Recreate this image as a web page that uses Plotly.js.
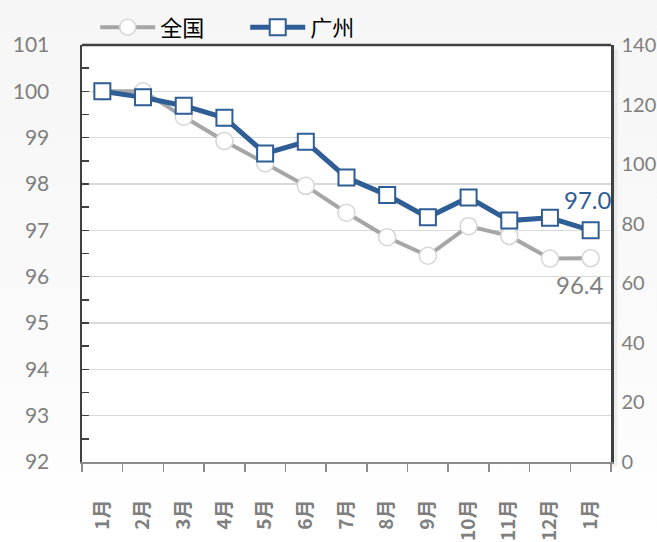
<!DOCTYPE html>
<html>
<head>
<meta charset="utf-8">
<script src="https://cdn.plot.ly/plotly-3.0.1.min.js"></script>
<style>
html,body{margin:0;padding:0;}
body{width:657px;height:542px;background:linear-gradient(180deg,#f6f6f6 0%,#fafafa 60%,#ffffff 100%);}
#chart{width:657px;height:542px;}
</style>
</head>
<body>
<div id="chart"></div>
<script>
const monthLabels = ["1月","2月","3月","4月","5月","6月","7月","8月","9月","10月","11月","12月","1月"];
const nationalValues = [100.0, 100.0, 99.45, 98.93, 98.45, 97.96, 97.38, 96.85, 96.45, 97.09, 96.88, 96.39, 96.4];
const guangzhouValues = [100.0, 99.87, 99.69, 99.43, 98.66, 98.91, 98.14, 97.76, 97.28, 97.71, 97.21, 97.27, 97.0];
const seriesNames = ["全国", "广州"];

const xIdx = monthLabels.map((_, i) => i);
const numFont = "Lato, 'Noto Sans CJK SC', sans-serif";
const cjkFont = "'Noto Sans CJK SC', 'Noto Sans', sans-serif";
const blue = "#2f5d95";
const gray = "#a6a6a6";
const last = monthLabels.length - 1;

const traces = [
  {
    x: xIdx, y: nationalValues, name: seriesNames[0], type: "scatter", mode: "lines+markers",
    line: {color: gray, width: 4},
    marker: {symbol: "circle", size: 17, color: "#ffffff", line: {color: "#d6d6d6", width: 1.5}},
    hoverinfo: "skip"
  },
  {
    x: xIdx, y: guangzhouValues, name: seriesNames[1], type: "scatter", mode: "lines+markers",
    line: {color: blue, width: 5},
    marker: {symbol: "square", size: 16, color: "#ffffff", line: {color: blue, width: 2}},
    hoverinfo: "skip"
  },
  {
    x: [], y: [], yaxis: "y2", type: "scatter", mode: "lines", showlegend: false, hoverinfo: "skip"
  }
];

const layout = {
  width: 657, height: 542,
  margin: {l: 82, r: 46, t: 45, b: 80, autoexpand: false},
  paper_bgcolor: "rgba(0,0,0,0)",
  plot_bgcolor: "#ffffff",
  showlegend: true,
  legend: {
    orientation: "h", x: 0.025, y: 0.992, xanchor: "left", yanchor: "bottom",
    font: {family: cjkFont, size: 22, color: "#000000"},
    bgcolor: "rgba(0,0,0,0)", itemwidth: 55, traceorder: "normal",
    entrywidth: 80
  },
  xaxis: {
    range: [-0.5, last + 0.5],
    tickmode: "array", tickvals: xIdx, ticktext: monthLabels,
    tickangle: -90, ticks: "", ticklabelstandoff: 28,
    tickfont: {family: cjkFont, size: 19, color: "#7f7f7f", weight: "bold"},
    showgrid: false, zeroline: false,
    showline: true, linecolor: "#8c8c8c", linewidth: 2,
    minor: {tick0: -0.5, dtick: 1, ticks: "outside", ticklen: 8, tickcolor: "#8c8c8c", tickwidth: 1.5, showgrid: false},
    fixedrange: true
  },
  yaxis: {
    range: [92, 101], dtick: 1, tick0: 92,
    ticks: "inside", ticklen: 7, tickcolor: "#404040", tickwidth: 1.5,
    tickfont: {family: numFont, size: 21, color: "#7f7f7f"},
    showgrid: true, gridcolor: "#d9d9d9", gridwidth: 1.5,
    zeroline: false, showline: true, linecolor: "#404040", linewidth: 2.5,
    minor: {dtick: 0.5, ticks: "inside", ticklen: 7, tickcolor: "#404040", tickwidth: 1.5, showgrid: false},
    ticklabelstandoff: 26,
    fixedrange: true
  },
  yaxis2: {
    overlaying: "y", side: "right", range: [0, 140], dtick: 20,
    ticks: "", showgrid: false, zeroline: false,
    showline: true, linecolor: "#404040", linewidth: 2.5,
    tickfont: {family: numFont, size: 20, color: "#7f7f7f"},
    ticklabelstandoff: 4,
    fixedrange: true
  },
  shapes: [
    {type: "line", xref: "paper", yref: "paper", x0: 0, x1: 1, y0: 1, y1: 1, line: {color: "#404040", width: 2.5}},
    {type: "rect", xref: "paper", yref: "paper", x0: 1.0, x1: 1.012, y0: -0.01, y1: 0.99, fillcolor: "rgba(0,0,0,0.06)", line: {width: 0}, layer: "below"}
  ],
  annotations: [
    {x: last, y: guangzhouValues[last], xref: "x", yref: "y", text: guangzhouValues[last].toFixed(1),
     showarrow: false, yshift: 31, xshift: -3, font: {family: numFont, size: 24, color: blue}},
    {x: last, y: nationalValues[last], xref: "x", yref: "y", text: nationalValues[last].toFixed(1),
     showarrow: false, yshift: -26, xshift: -11, font: {family: numFont, size: 24, color: "#808080"}}
  ]
};

Plotly.newPlot("chart", traces, layout, {displayModeBar: false, staticPlot: true});
</script>
</body>
</html>
